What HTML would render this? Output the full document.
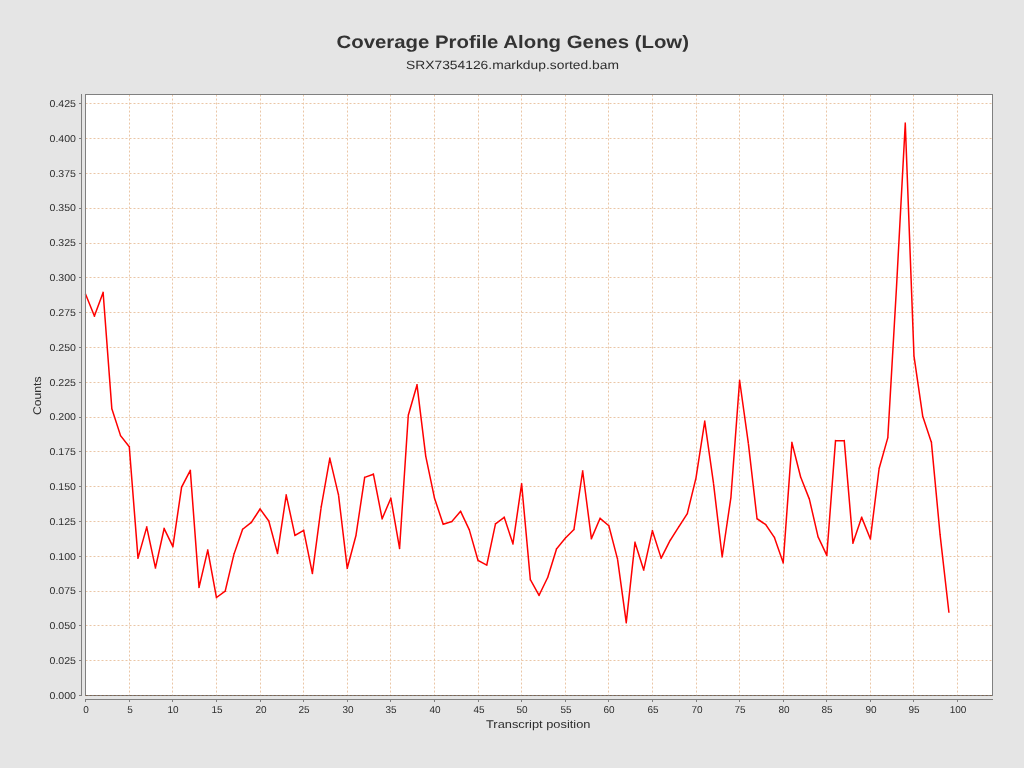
<!DOCTYPE html><html><head><meta charset="utf-8"><style>html,body{margin:0;padding:0;width:1024px;height:768px;overflow:hidden;background:#e5e5e5}svg{display:block}body{position:relative}text{font-family:"Liberation Sans",sans-serif;text-rendering:geometricPrecision}</style></head><body>
<svg width="1024" height="768" viewBox="0 0 1024 768">
<rect x="0" y="0" width="1024" height="768" fill="#e5e5e5"/>
<rect x="85" y="94" width="907" height="601" fill="#fff"/>
<path d="M129.5 94.55V695M172.5 94.55V695M216.5 94.55V695M260.5 94.55V695M303.5 94.55V695M347.5 94.55V695M390.5 94.55V695M434.5 94.55V695M478.5 94.55V695M521.5 94.55V695M565.5 94.55V695M608.5 94.55V695M652.5 94.55V695M696.5 94.55V695M739.5 94.55V695M783.5 94.55V695M826.5 94.55V695M870.5 94.55V695M913.5 94.55V695M957.5 94.55V695M85.5 660.5H992M85.5 625.5H992M85.5 591.5H992M85.5 556.5H992M85.5 521.5H992M85.5 486.5H992M85.5 451.5H992M85.5 417.5H992M85.5 382.5H992M85.5 347.5H992M85.5 312.5H992M85.5 277.5H992M85.5 243.5H992M85.5 208.5H992M85.5 173.5H992M85.5 138.5H992M85.5 103.5H992" stroke="#eac6a6" stroke-width="1" stroke-dasharray="2 2" fill="none"/>
<path d="M85.69 294.46L94.40 316.04M94.40 316.04L103.12 292.51M103.12 292.51L111.84 408.76M111.84 408.76L120.56 435.63M120.56 435.63L129.28 446.76M129.28 446.76L138.00 558.14M138.00 558.14L146.72 527.09M146.72 527.09L155.44 567.89M155.44 567.89L164.16 528.49M164.16 528.49L172.88 546.58M172.88 546.58L181.59 487.14M181.59 487.14L190.31 470.43M190.31 470.43L199.03 587.38M199.03 587.38L207.75 550.20M207.75 550.20L216.47 597.54M216.47 597.54L225.19 591.13M225.19 591.13L233.91 554.38M233.91 554.38L242.63 529.32M242.63 529.32L251.35 522.36M251.35 522.36L260.06 509.00M260.06 509.00L268.78 520.97M268.78 520.97L277.50 553.41M277.50 553.41L286.22 495.07M286.22 495.07L294.94 535.45M294.94 535.45L303.66 530.30M303.66 530.30L312.38 573.31M312.38 573.31L321.10 507.60M321.10 507.60L329.82 458.32M329.82 458.32L338.54 495.07M338.54 495.07L347.25 568.30M347.25 568.30L355.97 535.45M355.97 535.45L364.69 477.39M364.69 477.39L373.41 474.19M373.41 474.19L382.13 518.74M382.13 518.74L390.85 498.28M390.85 498.28L399.57 548.39M399.57 548.39L408.29 415.30M408.29 415.30L417.01 384.95M417.01 384.95L425.73 456.09M425.73 456.09L434.44 497.86M434.44 497.86L443.16 524.31M443.16 524.31L451.88 521.52M451.88 521.52L460.60 511.36M460.60 511.36L469.32 529.88M469.32 529.88L478.04 560.51M478.04 560.51L486.76 565.10M486.76 565.10L495.48 523.89M495.48 523.89L504.20 517.35M504.20 517.35L512.92 543.80M512.92 543.80L521.63 483.94M521.63 483.94L530.35 579.58M530.35 579.58L539.07 595.31M539.07 595.31L547.79 577.21M547.79 577.21L556.51 548.95M556.51 548.95L565.23 538.23M565.23 538.23L573.95 529.46M573.95 529.46L582.67 470.99M582.67 470.99L591.39 538.65M591.39 538.65L600.11 518.32M600.11 518.32L608.83 525.70M608.83 525.70L617.54 559.11M617.54 559.11L626.26 622.60M626.26 622.60L634.98 542.41M634.98 542.41L643.70 569.97M643.70 569.97L652.42 530.71M652.42 530.71L661.14 558.14M661.14 558.14L669.86 540.88M669.86 540.88L678.58 527.09M678.58 527.09L687.30 513.59M687.30 513.59L696.01 477.81M696.01 477.81L704.73 421.29M704.73 421.29L713.45 482.96M713.45 482.96L722.17 556.75M722.17 556.75L730.89 497.58M730.89 497.58L739.61 380.50M739.61 380.50L748.33 443.14M748.33 443.14L757.05 518.74M757.05 518.74L765.77 524.73M765.77 524.73L774.49 537.67M774.49 537.67L783.20 562.73M783.20 562.73L791.92 442.59M791.92 442.59L800.64 476.97M800.64 476.97L809.36 499.11M809.36 499.11L818.08 536.84M818.08 536.84L826.80 555.36M826.80 555.36L835.52 440.64M835.52 440.64L844.24 440.64M844.24 440.64L852.96 543.10M852.96 543.10L861.68 517.35M861.68 517.35L870.39 538.93M870.39 538.93L879.11 468.48M879.11 468.48L887.83 437.58M887.83 437.58L896.55 286.24M896.55 286.24L905.27 123.36M905.27 123.36L913.99 356.13M913.99 356.13L922.71 416.14M922.71 416.14L931.43 442.59M931.43 442.59L940.15 535.45M940.15 535.45L948.87 612.02" fill="none" stroke="#f00" stroke-width="1.5" stroke-linecap="square"/>
<rect x="85.5" y="94.5" width="907" height="601" fill="none" stroke="#808080" stroke-width="1"/>
<path d="M85.7 695.5H992" stroke="#7d6450" stroke-width="1" stroke-dasharray="2 2"/>
<path d="M81.5 94V696" stroke="#808080" stroke-width="1"/>
<path d="M79 695.5H81M79 660.5H81M79 625.5H81M79 591.5H81M79 556.5H81M79 521.5H81M79 486.5H81M79 451.5H81M79 417.5H81M79 382.5H81M79 347.5H81M79 312.5H81M79 277.5H81M79 243.5H81M79 208.5H81M79 173.5H81M79 138.5H81M79 103.5H81" stroke="#808080" stroke-width="1"/>
<path d="M85 699.5H993" stroke="#808080" stroke-width="1"/>
<path d="M85.5 700V702M129.5 700V702M172.5 700V702M216.5 700V702M260.5 700V702M303.5 700V702M347.5 700V702M390.5 700V702M434.5 700V702M478.5 700V702M521.5 700V702M565.5 700V702M608.5 700V702M652.5 700V702M696.5 700V702M739.5 700V702M783.5 700V702M826.5 700V702M870.5 700V702M913.5 700V702M957.5 700V702" stroke="#808080" stroke-width="1"/>
</svg>
<svg style="position:absolute;left:0;top:0;filter:grayscale(1)" width="1024" height="768" viewBox="0 0 1024 768">
<text x="336.5" y="48" font-size="18" font-weight="bold" fill="#333" textLength="352.5" lengthAdjust="spacingAndGlyphs">Coverage Profile Along Genes (Low)</text>
<text x="406" y="69" font-size="12" fill="#2e2e2e" textLength="213" lengthAdjust="spacingAndGlyphs">SRX7354126.markdup.sorted.bam</text>
<text transform="translate(49.5 698.75) scale(1 1.0)" x="0" y="0" font-size="10" fill="#2e2e2e" textLength="26.5" lengthAdjust="spacingAndGlyphs">0.000</text>
<text transform="translate(49.5 663.95) scale(1 1.0)" x="0" y="0" font-size="10" fill="#2e2e2e" textLength="26.5" lengthAdjust="spacingAndGlyphs">0.025</text>
<text transform="translate(49.5 629.14) scale(1 1.0)" x="0" y="0" font-size="10" fill="#2e2e2e" textLength="26.5" lengthAdjust="spacingAndGlyphs">0.050</text>
<text transform="translate(49.5 594.34) scale(1 1.0)" x="0" y="0" font-size="10" fill="#2e2e2e" textLength="26.5" lengthAdjust="spacingAndGlyphs">0.075</text>
<text transform="translate(49.5 559.53) scale(1 1.0)" x="0" y="0" font-size="10" fill="#2e2e2e" textLength="26.5" lengthAdjust="spacingAndGlyphs">0.100</text>
<text transform="translate(49.5 524.73) scale(1 1.0)" x="0" y="0" font-size="10" fill="#2e2e2e" textLength="26.5" lengthAdjust="spacingAndGlyphs">0.125</text>
<text transform="translate(49.5 489.92) scale(1 1.0)" x="0" y="0" font-size="10" fill="#2e2e2e" textLength="26.5" lengthAdjust="spacingAndGlyphs">0.150</text>
<text transform="translate(49.5 455.11) scale(1 1.0)" x="0" y="0" font-size="10" fill="#2e2e2e" textLength="26.5" lengthAdjust="spacingAndGlyphs">0.175</text>
<text transform="translate(49.5 420.31) scale(1 1.0)" x="0" y="0" font-size="10" fill="#2e2e2e" textLength="26.5" lengthAdjust="spacingAndGlyphs">0.200</text>
<text transform="translate(49.5 385.50) scale(1 1.0)" x="0" y="0" font-size="10" fill="#2e2e2e" textLength="26.5" lengthAdjust="spacingAndGlyphs">0.225</text>
<text transform="translate(49.5 350.70) scale(1 1.0)" x="0" y="0" font-size="10" fill="#2e2e2e" textLength="26.5" lengthAdjust="spacingAndGlyphs">0.250</text>
<text transform="translate(49.5 315.89) scale(1 1.0)" x="0" y="0" font-size="10" fill="#2e2e2e" textLength="26.5" lengthAdjust="spacingAndGlyphs">0.275</text>
<text transform="translate(49.5 281.09) scale(1 1.0)" x="0" y="0" font-size="10" fill="#2e2e2e" textLength="26.5" lengthAdjust="spacingAndGlyphs">0.300</text>
<text transform="translate(49.5 246.28) scale(1 1.0)" x="0" y="0" font-size="10" fill="#2e2e2e" textLength="26.5" lengthAdjust="spacingAndGlyphs">0.325</text>
<text transform="translate(49.5 211.48) scale(1 1.0)" x="0" y="0" font-size="10" fill="#2e2e2e" textLength="26.5" lengthAdjust="spacingAndGlyphs">0.350</text>
<text transform="translate(49.5 176.67) scale(1 1.0)" x="0" y="0" font-size="10" fill="#2e2e2e" textLength="26.5" lengthAdjust="spacingAndGlyphs">0.375</text>
<text transform="translate(49.5 141.87) scale(1 1.0)" x="0" y="0" font-size="10" fill="#2e2e2e" textLength="26.5" lengthAdjust="spacingAndGlyphs">0.400</text>
<text transform="translate(49.5 107.06) scale(1 1.0)" x="0" y="0" font-size="10" fill="#2e2e2e" textLength="26.5" lengthAdjust="spacingAndGlyphs">0.425</text>
<text transform="translate(86 713) scale(1 1.0)" x="0" y="0" text-anchor="middle" font-size="10" fill="#2e2e2e">0</text>
<text transform="translate(130 713) scale(1 1.0)" x="0" y="0" text-anchor="middle" font-size="10" fill="#2e2e2e">5</text>
<text transform="translate(173 713) scale(1 1.0)" x="0" y="0" text-anchor="middle" font-size="10" fill="#2e2e2e">10</text>
<text transform="translate(217 713) scale(1 1.0)" x="0" y="0" text-anchor="middle" font-size="10" fill="#2e2e2e">15</text>
<text transform="translate(261 713) scale(1 1.0)" x="0" y="0" text-anchor="middle" font-size="10" fill="#2e2e2e">20</text>
<text transform="translate(304 713) scale(1 1.0)" x="0" y="0" text-anchor="middle" font-size="10" fill="#2e2e2e">25</text>
<text transform="translate(348 713) scale(1 1.0)" x="0" y="0" text-anchor="middle" font-size="10" fill="#2e2e2e">30</text>
<text transform="translate(391 713) scale(1 1.0)" x="0" y="0" text-anchor="middle" font-size="10" fill="#2e2e2e">35</text>
<text transform="translate(435 713) scale(1 1.0)" x="0" y="0" text-anchor="middle" font-size="10" fill="#2e2e2e">40</text>
<text transform="translate(479 713) scale(1 1.0)" x="0" y="0" text-anchor="middle" font-size="10" fill="#2e2e2e">45</text>
<text transform="translate(522 713) scale(1 1.0)" x="0" y="0" text-anchor="middle" font-size="10" fill="#2e2e2e">50</text>
<text transform="translate(566 713) scale(1 1.0)" x="0" y="0" text-anchor="middle" font-size="10" fill="#2e2e2e">55</text>
<text transform="translate(609 713) scale(1 1.0)" x="0" y="0" text-anchor="middle" font-size="10" fill="#2e2e2e">60</text>
<text transform="translate(653 713) scale(1 1.0)" x="0" y="0" text-anchor="middle" font-size="10" fill="#2e2e2e">65</text>
<text transform="translate(697 713) scale(1 1.0)" x="0" y="0" text-anchor="middle" font-size="10" fill="#2e2e2e">70</text>
<text transform="translate(740 713) scale(1 1.0)" x="0" y="0" text-anchor="middle" font-size="10" fill="#2e2e2e">75</text>
<text transform="translate(784 713) scale(1 1.0)" x="0" y="0" text-anchor="middle" font-size="10" fill="#2e2e2e">80</text>
<text transform="translate(827 713) scale(1 1.0)" x="0" y="0" text-anchor="middle" font-size="10" fill="#2e2e2e">85</text>
<text transform="translate(871 713) scale(1 1.0)" x="0" y="0" text-anchor="middle" font-size="10" fill="#2e2e2e">90</text>
<text transform="translate(914 713) scale(1 1.0)" x="0" y="0" text-anchor="middle" font-size="10" fill="#2e2e2e">95</text>
<text transform="translate(958 713) scale(1 1.0)" x="0" y="0" text-anchor="middle" font-size="10" fill="#2e2e2e">100</text>
<text x="486" y="728" font-size="11.2" fill="#2e2e2e" textLength="104.5" lengthAdjust="spacingAndGlyphs">Transcript position</text>
<text transform="translate(40.6 415) rotate(-90)" x="0" y="0" font-size="11.2" fill="#2e2e2e" textLength="38.5" lengthAdjust="spacingAndGlyphs">Counts</text>
</svg></body></html>
